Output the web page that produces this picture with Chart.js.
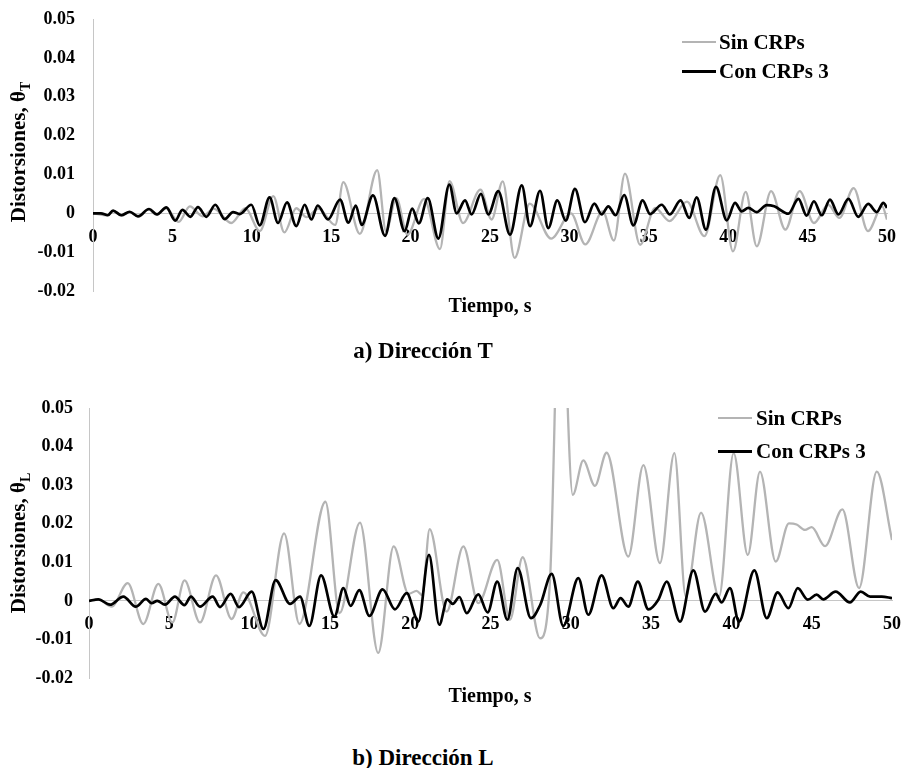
<!DOCTYPE html>
<html>
<head>
<meta charset="utf-8">
<script src="https://cdn.jsdelivr.net/npm/chart.js@4.4.1/dist/chart.umd.min.js"></script>
<style>
  body { margin: 0; background: #fff; width: 904px; height: 768px; position: relative; overflow: hidden;
         font-family: 'Liberation Serif', 'Times New Roman', serif; font-weight: bold; color: #000; }
  canvas { position: absolute; left: 0; }
  .txt { position: absolute; white-space: nowrap; transform: translate(-50%, -50%); }
  .ytitle { position: absolute; white-space: nowrap; font-size: 21px; transform: translate(-50%, -50%) rotate(-90deg); }
  .ytitle sub { font-size: 14px; }
  .swatch { position: absolute; height: 0; }
</style>
</head>
<body>

<canvas id="chartT" width="904" height="305" style="top:0"></canvas>
<canvas id="chartL" width="904" height="300" style="top:390px"></canvas>

<div class="ytitle" style="left:20px; top:152px">Distorsiones, θ<sub>T</sub></div>
<div class="ytitle" style="left:20px; top:543px">Distorsiones, θ<sub>L</sub></div>

<div class="txt" style="left:490px; top:305px; font-size:20px">Tiempo, s</div>
<div class="txt" style="left:423px; top:351px; font-size:23px">a) Dirección T</div>
<div class="txt" style="left:490px; top:695px; font-size:20px">Tiempo, s</div>
<div class="txt" style="left:423px; top:758px; font-size:23px">b) Dirección L</div>

<!-- legends -->
<div class="swatch" style="left:682px; top:41px; width:34px; border-top:2.5px solid #b4b4b4"></div>
<div class="txt" style="left:719px; top:42px; transform:translateY(-50%); font-size:21px">Sin CRPs</div>
<div class="swatch" style="left:682px; top:70px; width:34px; border-top:3px solid #000"></div>
<div class="txt" style="left:719px; top:71px; transform:translateY(-50%); font-size:21px">Con CRPs 3</div>

<div class="swatch" style="left:718px; top:417px; width:34px; border-top:2.5px solid #b4b4b4"></div>
<div class="txt" style="left:756px; top:418px; transform:translateY(-50%); font-size:21px">Sin CRPs</div>
<div class="swatch" style="left:718px; top:450px; width:34px; border-top:3px solid #000"></div>
<div class="txt" style="left:756px; top:451px; transform:translateY(-50%); font-size:21px">Con CRPs 3</div>

<script>
// Axis ticks (both panels share them)
const X_TICKS = [0, 5, 10, 15, 20, 25, 30, 35, 40, 45, 50];
const Y_TICKS = [-0.02, -0.01, 0, 0.01, 0.02, 0.03, 0.04, 0.05];

// a) Dirección T  -- time (s) and distortion
const tiempoSinT = [0, 0.9, 1.3, 1.8, 2.3, 2.9, 3.5, 4.0, 4.6, 5.4, 6.1, 6.9, 7.6, 8.7, 9.6, 10.5, 11.35, 12.05, 12.8, 13.45,
  14.2, 15.25, 15.76, 16.8, 17.9, 18.45, 19.1, 19.8, 20.85, 21.85, 22.45, 23.3, 24.4, 25.1, 25.8, 26.55, 27.5, 28.85, 30.1, 31.0,
  32.1, 32.8, 33.5, 34.45, 35.4, 36.3, 37.4, 38.5, 39.5, 40.3, 41.1, 41.8, 42.7, 43.6, 44.5, 45.4, 46.3, 47.0, 47.9, 48.8, 49.7, 50];
const sinCrpsT = [0, -0.0005, 0.0006, -0.0006, 0.0003, -0.0008, 0.001, -0.0004, 0.0013, -0.0022, 0.0018, -0.0008, 0.0012, -0.0025, 0.0013, -0.0046, 0.0044, -0.0049, 0.0013, -0.001,
  0.0012, -0.003, 0.008, -0.0053, 0.0111, -0.0046, 0.0039, -0.0055, 0.0037, -0.0092, 0.0083, -0.0025, 0.0061, -0.0016, 0.0082, -0.0115, 0.0025, -0.0065, 0.0, -0.008,
  0.0005, -0.007, 0.0102, -0.0081, 0.0014, -0.002, 0.003, -0.0059, 0.0098, -0.0098, 0.0055, -0.0085, 0.0057, -0.0042, 0.0057, -0.0025, 0.0022, -0.0012, 0.0065, -0.0046, 0.0018, -0.0016];

const tiempoConT = [0, 0.5, 0.94, 1.26, 1.78, 2.31, 2.83, 3.53, 4.03, 4.62, 5.18, 5.63, 6.13, 6.61, 7.14, 7.70, 8.29, 8.82, 9.24, 9.97,
  10.5, 11.12, 11.65, 12.22, 12.8, 13.33, 13.75, 14.15, 14.8, 15.56, 16.08, 16.55, 16.92, 17.63, 18.39, 18.98, 19.62, 20.1, 20.52, 21.08,
  21.75, 22.44, 22.9, 23.43, 23.84, 24.43, 24.89, 25.52, 26.26, 27.0, 27.52, 28.15, 28.67, 29.24, 29.77, 30.35, 30.98, 31.57, 32.03, 32.45,
  32.91, 33.45, 34.03, 34.61, 35.08, 35.81, 36.33, 37.0, 37.55, 38.01, 38.6, 39.23, 39.91, 40.43, 40.85, 41.27, 41.79, 42.42, 42.9, 43.79,
  44.42, 44.94, 45.4, 45.89, 46.41, 46.94, 47.57, 48.19, 48.82, 49.35, 49.77, 50];
const conCrpsT = [0, 0, -0.0005, 0.0007, -0.0005, 0.0004, -0.0008, 0.0011, -0.0003, 0.0015, -0.0019, 0.0009, -0.0009, 0.0016, -0.0009, 0.0022, -0.0015, 0.0003, -0.0002, 0.0022,
  -0.0031, 0.0041, -0.0025, 0.0028, -0.0033, 0.0022, -0.0016, 0.0020, -0.0016, 0.0035, -0.0024, 0.0020, -0.0030, 0.0046, -0.0058, 0.0039, -0.0046, 0.0012, -0.0026, 0.0039,
  -0.0065, 0.0074, 0.0, 0.0033, -0.0003, 0.005, -0.0003, 0.0057, -0.0055, 0.0072, -0.0033, 0.0058, -0.0038, 0.0033, -0.0019, 0.0063, -0.0023, 0.0025, -0.0003, 0.0018,
  -0.0005, 0.0047, -0.0031, 0.0033, -0.0002, 0.0022, -0.0003, 0.0033, -0.0012, 0.0041, -0.0042, 0.0068, -0.0018, 0.0027, 0.0005, 0.0014, 0.0003, 0.0021, 0.0018, -0.0001,
  0.0037, -0.0006, 0.0031, -0.0005, 0.0035, -0.0003, 0.0037, -0.0009, 0.0024, 0.0003, 0.0027, 0.0014];

// b) Dirección L
const tiempoSinL = [0, 0.6, 1.41, 2.41, 3.38, 4.32, 5.19, 5.95, 6.91, 7.91, 8.88, 9.61, 10.96, 12.15, 13.1, 14.72, 15.6, 16.87, 18.01, 18.97,
  19.9, 20.4, 20.75, 21.21, 22.27, 23.31, 24.24, 25.42, 26.21, 27.0, 28.08, 28.7, 29.35, 30.12, 30.78, 31.5, 32.23, 33.58, 34.52, 35.55,
  36.45, 37.16, 38.11, 39.23, 40.14, 41.02, 41.78, 42.76, 43.58, 44.06, 44.58, 45.0, 45.83, 46.91, 47.95, 49.05, 50];
const sinCrpsL = [0, 0.0003, -0.0015, 0.0046, -0.006, 0.0044, -0.0056, 0.0053, -0.0056, 0.0066, -0.0047, 0.0022, -0.0091, 0.0175, -0.006, 0.0257, -0.0032, 0.0203, -0.0135, 0.0141,
  0.0018, 0.0026, 0.0015, 0.0186, -0.0028, 0.0141, -0.0006, 0.0106, -0.0049, 0.0113, -0.0097, 0.005, 0.09, 0.0275, 0.0364, 0.0298, 0.0384, 0.0115, 0.0352, 0.0098,
  0.0383, 0.0011, 0.0229, 0.0011, 0.0383, 0.0119, 0.0335, 0.0102, 0.0201, 0.0198, 0.0184, 0.0191, 0.0142, 0.0237, 0.0033, 0.0335, 0.0158];

const tiempoConL = [0, 0.58, 1.31, 2.14, 2.91, 3.55, 3.9, 4.25, 4.73, 5.35, 5.94, 6.35, 6.91, 7.7, 8.16, 8.82, 9.34, 10.13, 10.86, 11.62,
  12.52, 13.14, 13.72, 14.45, 15.28, 15.84, 16.29, 16.83, 17.46, 18.28, 19.05, 19.78, 20.51, 21.17, 21.81, 22.31, 22.65, 23.06, 23.52, 24.24,
  24.82, 25.42, 26.05, 26.69, 27.52, 28.1, 28.81, 29.53, 30.47, 31.09, 31.92, 32.65, 33.1, 33.58, 34.17, 34.83, 35.45, 35.97, 36.8, 37.63,
  38.36, 39.02, 39.39, 39.91, 40.47, 41.43, 42.2, 42.88, 43.55, 44.13, 44.75, 45.31, 45.72, 46.49, 47.38, 48.05, 48.64, 49.36, 50];
const conCrpsL = [0, 0.0004, -0.001, 0.0011, -0.0015, 0.0005, -0.0006, 0.0, -0.001, 0.0011, -0.0011, 0.0011, -0.0015, 0.0011, -0.0016, 0.0018, -0.0016, 0.0024, -0.0073, 0.0054,
  -0.0008, 0.0011, -0.0065, 0.0066, -0.0041, 0.0033, -0.0013, 0.0028, -0.0039, 0.003, -0.0022, 0.002, -0.0054, 0.0119, -0.0062, 0.0004, -0.0008, 0.001, -0.0032, 0.0017,
  -0.003, 0.005, -0.0049, 0.0085, -0.0045, -0.001, 0.007, -0.0065, 0.0059, -0.0036, 0.0066, -0.0019, 0.0007, -0.0015, 0.005, -0.0022, 0.0003, 0.005, -0.0054, 0.0079,
  -0.0028, 0.0018, -0.0004, 0.0033, -0.0054, 0.0079, -0.0045, 0.0022, -0.0019, 0.0033, 0.0003, 0.0016, 0.0004, 0.0024, -0.0004, 0.0024, 0.0011, 0.0011, 0.0007];

const FONT = { family: "'Liberation Serif', 'Times New Roman', serif", size: 18, weight: 'bold' };
const AXIS_GREY = '#c6c6c6';

const zip = (xs, ys) => xs.map((x, i) => ({ x, y: ys[i] }));

function yLabel(v) {
  return Math.abs(v) < 1e-9 ? '0' : v.toFixed(2);
}

// One panel. Label gaps come from (invisible) tick length rather than tick
// padding, since padding also feeds the layout and shrinks the plot area.
function panel(canvasEl, sinX, sinY, conX, conY, layout) {
  return new Chart(canvasEl.getContext('2d'), {
    type: 'line',
    data: {
      datasets: [
        { label: 'Sin CRPs', data: zip(sinX, sinY), borderColor: '#b4b4b4', borderWidth: 2.3,
          pointRadius: 0, cubicInterpolationMode: 'monotone', order: 2 },
        { label: 'Con CRPs 3', data: zip(conX, conY), borderColor: '#000', borderWidth: 2.7,
          pointRadius: 0, cubicInterpolationMode: 'monotone', order: 1 }
      ]
    },
    options: {
      responsive: false,
      animation: false,
      events: [],
      layout: { padding: layout.padding },
      plugins: { legend: { display: false }, tooltip: { enabled: false } },
      scales: {
        x: {
          type: 'linear', min: 0, max: 50,
          position: { y: 0 },
          afterBuildTicks: s => { s.ticks = X_TICKS.map(v => ({ value: v })); },
          grid: { display: false, drawTicks: true, tickLength: layout.xTick },
          border: { color: AXIS_GREY, width: 1 },
          ticks: { color: '#000', font: FONT, padding: 0, maxRotation: 0, autoSkip: false }
        },
        y: {
          min: -0.02, max: 0.05,
          afterBuildTicks: s => { s.ticks = Y_TICKS.map(v => ({ value: v })); },
          afterFit: s => { s.width = layout.yWidth; },
          grid: { display: false, drawTicks: true, tickLength: layout.yTick },
          border: { color: AXIS_GREY, width: 1 },
          ticks: { color: '#000', font: FONT, padding: 0, callback: yLabel }
        }
      }
    }
  });
}

panel(document.getElementById('chartT'), tiempoSinT, sinCrpsT, tiempoConT, conCrpsT,
  { padding: { left: 0, right: 17, top: 19, bottom: 14 }, yWidth: 93, yTick: 18, xTick: 13 });
panel(document.getElementById('chartL'), tiempoSinL, sinCrpsL, tiempoConL, conCrpsL,
  { padding: { left: 0, right: 12, top: 18, bottom: 12 }, yWidth: 89, yTick: 16, xTick: 13 });
</script>
</body>
</html>
